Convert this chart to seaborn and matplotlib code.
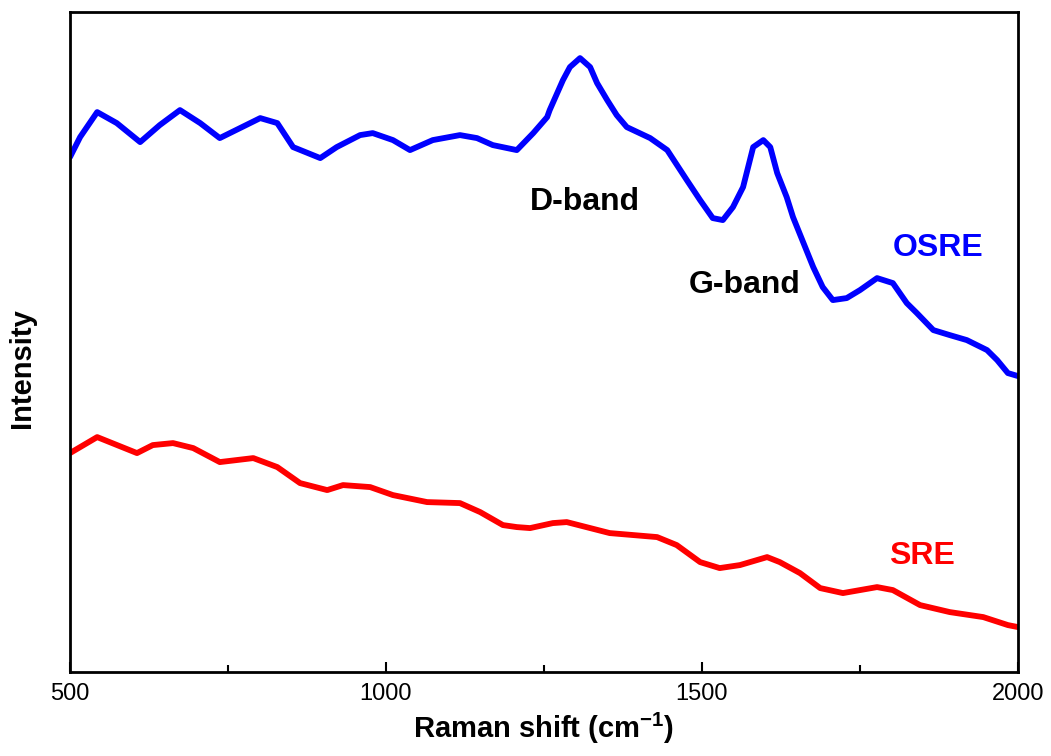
import numpy as np
import pandas as pd
import matplotlib
matplotlib.use("Agg")
import matplotlib.pyplot as plt
import seaborn as sns

# Raman shift (cm-1) and intensity (a.u.)
osre_shift = [500, 516, 543, 574, 611, 642, 674, 706, 737, 769, 801, 828, 853,
              896, 922, 959, 979, 1011, 1038, 1074, 1117, 1144, 1169, 1207,
              1233, 1255, 1259, 1280, 1291, 1307, 1323, 1334, 1350, 1365, 1381,
              1418, 1445, 1476, 1497, 1517, 1533, 1549, 1565, 1581, 1597, 1608,
              1619, 1634, 1644, 1676, 1691, 1707, 1729, 1750, 1777, 1802, 1824,
              1840, 1866, 1892, 1919, 1951, 1967, 1984, 2000]
osre_int = [515, 535, 560, 549, 530, 547, 562, 549, 534, 544, 554, 549, 525,
            514, 525, 537, 539, 532, 522, 532, 537, 534, 527, 522,
            539, 555, 562, 592, 605, 614, 605, 589, 572, 557, 545,
            534, 522, 492, 472, 454, 452, 465, 485, 525, 532, 525,
            499, 475, 455, 405, 385, 372, 374, 382, 394, 389, 369,
            359, 342, 337, 332, 322, 312, 299, 296]

sre_shift = [500, 543, 606, 631, 663, 695, 737, 790, 828, 864, 907, 932, 975,
             1011, 1065, 1117, 1149, 1185, 1207, 1228, 1264, 1286, 1354, 1429,
             1460, 1497, 1528, 1560, 1603, 1623, 1655, 1687, 1723, 1777, 1802,
             1845, 1892, 1945, 1984, 2000]
sre_int = [219, 235, 219, 227, 229, 224, 210, 214, 205, 189, 182, 187, 185,
           177, 170, 169, 160, 147, 145, 144, 149, 150, 139, 135,
           127, 110, 104, 107, 115, 110, 99, 84, 79, 85, 82,
           67, 60, 55, 47, 45]

x_ticks = [500, 1000, 1500, 2000]
x_minor = [750, 1250, 1750]

sns.set_style("ticks")
plt.rcParams['font.family'] = ['Liberation Sans', 'DejaVu Sans']
plt.rcParams['text.color'] = 'black'
plt.rcParams['axes.labelcolor'] = 'black'
plt.rcParams['xtick.color'] = 'black'

df_osre = pd.DataFrame({'shift': osre_shift, 'intensity': osre_int})
df_sre = pd.DataFrame({'shift': sre_shift, 'intensity': sre_int})

fig = plt.figure(figsize=(10.51, 7.56), dpi=100)
ax = fig.add_axes([0.0666, 0.111, 0.902, 0.873])

sns.lineplot(data=df_osre, x='shift', y='intensity', color='#0000ff',
             linewidth=4.2, ax=ax)
sns.lineplot(data=df_sre, x='shift', y='intensity', color='#ff0000',
             linewidth=4.2, ax=ax)

ax.set_xlim(500, 2000)
ax.set_ylim(0, 660)
ax.set_xticks(x_ticks)
ax.set_xticks(x_minor, minor=True)
ax.set_yticks([])
ax.tick_params(axis='x', which='major', direction='in', length=7, width=1.5,
               labelsize=17, pad=8)
ax.tick_params(axis='x', which='minor', direction='in', length=5, width=1.5)
for s in ax.spines.values():
    s.set_linewidth(2)
    s.set_color('black')

ax.set_xlabel('Raman shift (cm$^{\\mathregular{-1}}$)', fontsize=21,
              fontweight='bold', labelpad=4)
ax.set_ylabel('Intensity', fontsize=21, fontweight='bold')
ax.yaxis.set_label_coords(-0.036, 0.46)

ax.text(1315, 470, 'D-band', fontsize=23, fontweight='bold', color='black',
        ha='center', va='center')
ax.text(1568, 387, 'G-band', fontsize=23, fontweight='bold', color='black',
        ha='center', va='center')
ax.text(1873, 424, 'OSRE', fontsize=23, fontweight='bold', color='#0000ff',
        ha='center', va='center')
ax.text(1848, 116, 'SRE', fontsize=23, fontweight='bold', color='#ff0000',
        ha='center', va='center')

fig.savefig('out.png', dpi=100)
